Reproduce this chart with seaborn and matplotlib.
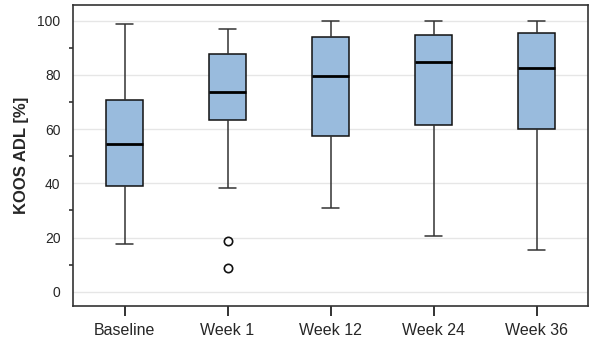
import numpy as np
import pandas as pd
import matplotlib
matplotlib.use("Agg")
import matplotlib.pyplot as plt
import seaborn as sns
from matplotlib.ticker import MultipleLocator

# ---- summary values ----
visits       = ["Baseline", "Week 1", "Week 12", "Week 24", "Week 36"]
whisker_low  = [17.6, 38.4, 31.0, 20.7, 15.4]
q1           = [39.1, 63.4, 57.6, 61.4, 60.0]
median       = [54.5, 73.7, 79.5, 84.6, 82.4]
q3           = [70.7, 87.6, 94.1, 94.7, 95.6]
whisker_high = [98.7, 97.0, 100.0, 100.0, 100.0]
outliers     = [[], [18.8, 8.9], [], [], []]

# build a long table whose box statistics reproduce the summary above
rows = []
for i, v in enumerate(visits):
    for val in [whisker_low[i], q1[i], median[i], q3[i], whisker_high[i]]:
        rows += [(v, val)] * 20
    rows += [(v, o) for o in outliers[i]]
df = pd.DataFrame(rows, columns=["visit", "koos"])

sns.set_style("white")
plt.rcParams["font.family"] = ["Liberation Sans", "DejaVu Sans"]

fig = plt.figure(figsize=(5.97, 3.43), dpi=100)
ax = fig.add_axes([0.1223, 0.108, 0.8627, 0.877])

sns.boxplot(
    data=df, x="visit", y="koos", order=visits, ax=ax,
    color="#99bbdd", saturation=1, width=0.36,
    linecolor="#222222", linewidth=1.1,
    boxprops={"edgecolor": "#111111"},
    medianprops={"color": "black", "linewidth": 2.0},
    whiskerprops={"color": "#333333"},
    capprops={"color": "#333333"},
    flierprops={"marker": "o", "markersize": 6, "markerfacecolor": "white",
                "markeredgecolor": "#111111", "markeredgewidth": 1.2},
    capwidths=0.16,
)

ax.set_ylim(-5.2, 105.7)
ax.set_xlim(-0.5, 4.5)
ax.yaxis.set_major_locator(MultipleLocator(20))
ax.yaxis.set_minor_locator(MultipleLocator(10))
ax.grid(axis="y", which="major", color="#e6e6e6", linewidth=1.0)
ax.set_axisbelow(True)

ax.tick_params(axis="y", which="major", length=6, width=1.3, color="#222222",
               labelsize=10, pad=3)
ax.tick_params(axis="y", which="minor", length=3, width=1.1, color="#222222",
               left=True)
ax.tick_params(axis="x", length=7, width=1.3, color="#222222",
               labelsize=11.5, pad=5, bottom=True)

for s in ax.spines.values():
    s.set_color("#333333")
    s.set_linewidth(1.2)

ax.set_xlabel("")
ax.set_ylabel("KOOS ADL [%]", fontsize=12, fontweight="bold", labelpad=6)

fig.savefig("out.png", dpi=100, facecolor="white")
